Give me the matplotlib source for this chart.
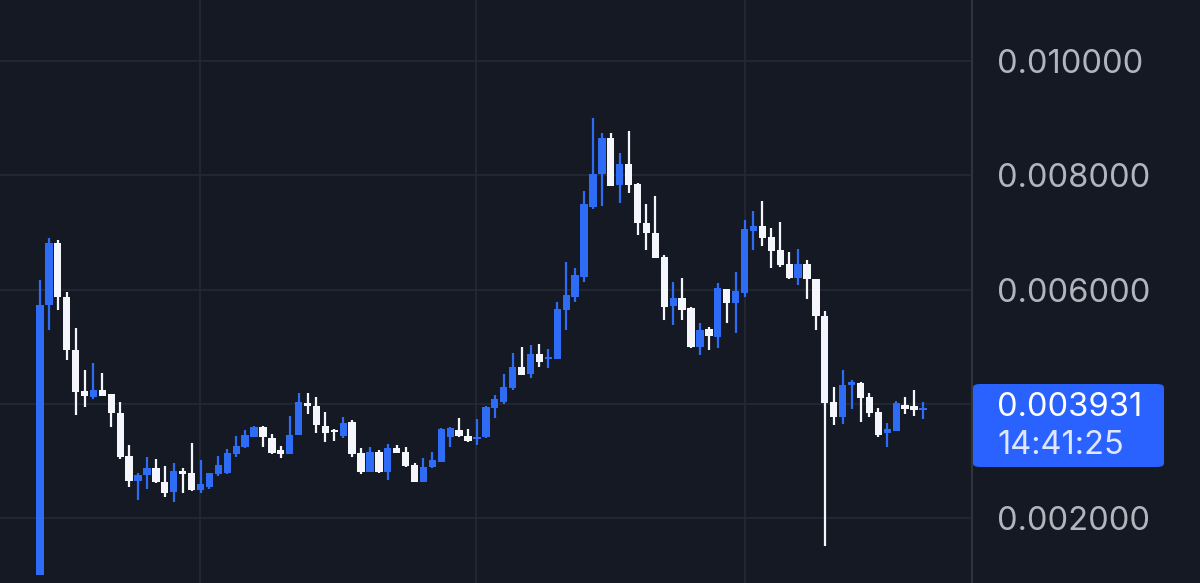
import matplotlib
matplotlib.use("Agg")
import matplotlib.pyplot as plt
from matplotlib.patches import FancyBboxPatch
from matplotlib.ticker import FuncFormatter
import numpy as np

# OHLC, one entry per candle
opens = [0.001005, 0.005730, 0.006815, 0.005870, 0.004943, 0.004225, 0.004120, 0.004243, 0.004173, 0.003840,
         0.003088, 0.002650, 0.002755, 0.002878, 0.002633, 0.002458, 0.002825, 0.002790, 0.002493, 0.002545,
         0.002773, 0.002790, 0.003123, 0.003245, 0.003420, 0.003595, 0.003403, 0.003193, 0.003123, 0.003455,
         0.004015, 0.003963, 0.003613, 0.003543, 0.003438, 0.003683, 0.003140, 0.002808, 0.003158, 0.002808,
         0.003228, 0.003158, 0.002930, 0.002633, 0.002895, 0.002983, 0.003420, 0.003543, 0.003438, 0.003385,
         0.003420, 0.003928, 0.004033, 0.004278, 0.004645, 0.004523, 0.004873, 0.004785, 0.004785, 0.005643,
         0.005870, 0.006220, 0.007445, 0.008023, 0.008653, 0.007830, 0.008198, 0.007848, 0.007165, 0.006990,
         0.006570, 0.005713, 0.005853, 0.005678, 0.004995, 0.005310, 0.005170, 0.006010, 0.005765, 0.005940,
         0.007025, 0.007113, 0.006920, 0.006693, 0.006448, 0.006203, 0.006448, 0.006185, 0.005538, 0.004033,
         0.003770, 0.004330, 0.004365, 0.004120, 0.003858, 0.003490, 0.003525, 0.003980, 0.003963, 0.003893]
highs = [0.006168, 0.006903, 0.006868, 0.005958, 0.005328, 0.004593, 0.004715, 0.004540, 0.004173, 0.004033,
         0.003280, 0.002790, 0.003070, 0.003035, 0.002913, 0.002965, 0.002878, 0.003315, 0.003018, 0.002790,
         0.003088, 0.003210, 0.003438, 0.003543, 0.003613, 0.003613, 0.003473, 0.003263, 0.003788, 0.004190,
         0.004190, 0.004120, 0.003858, 0.003560, 0.003770, 0.003718, 0.003228, 0.003245, 0.003193, 0.003298,
         0.003280, 0.003245, 0.002965, 0.003053, 0.003158, 0.003578, 0.003595, 0.003753, 0.003560, 0.003735,
         0.003963, 0.004155, 0.004523, 0.004890, 0.004995, 0.005030, 0.005048, 0.004960, 0.005783, 0.006483,
         0.006378, 0.007725, 0.009003, 0.008740, 0.008740, 0.008390, 0.008775, 0.007865, 0.007498, 0.007638,
         0.006605, 0.006133, 0.006203, 0.005695, 0.005415, 0.005345, 0.006115, 0.006010, 0.006308, 0.007218,
         0.007375, 0.007550, 0.007078, 0.007183, 0.006658, 0.006710, 0.006518, 0.006185, 0.005625, 0.004295,
         0.004593, 0.004418, 0.004383, 0.004190, 0.003928, 0.003665, 0.004050, 0.004120, 0.004243, 0.004033]
lows = [0.001005, 0.005293, 0.005643, 0.004768, 0.003805, 0.003945, 0.004085, 0.004138, 0.003595, 0.003035,
        0.002545, 0.002318, 0.002510, 0.002615, 0.002370, 0.002283, 0.002440, 0.002475, 0.002440, 0.002510,
        0.002738, 0.002773, 0.003070, 0.003228, 0.003420, 0.003245, 0.003123, 0.003053, 0.003123, 0.003455,
        0.003823, 0.003490, 0.003333, 0.003350, 0.003403, 0.003070, 0.002773, 0.002808, 0.002790, 0.002668,
        0.003140, 0.002895, 0.002633, 0.002633, 0.002878, 0.002983, 0.003245, 0.003420, 0.003333, 0.003280,
        0.003403, 0.003753, 0.003998, 0.004243, 0.004505, 0.004453, 0.004645, 0.004628, 0.004785, 0.005293,
        0.005783, 0.006133, 0.007410, 0.007463, 0.007813, 0.007515, 0.007690, 0.006955, 0.006693, 0.006553,
        0.005468, 0.005380, 0.005468, 0.004978, 0.004855, 0.004943, 0.004978, 0.005415, 0.005240, 0.005870,
        0.006693, 0.006763, 0.006378, 0.006395, 0.006185, 0.006080, 0.005835, 0.005293, 0.001513, 0.003630,
        0.003648, 0.003910, 0.003683, 0.003770, 0.003420, 0.003245, 0.003525, 0.003823, 0.003788, 0.003735]
closes = [0.005730, 0.006815, 0.005870, 0.004943, 0.004208, 0.004138, 0.004243, 0.004138, 0.003840, 0.003070,
          0.002650, 0.002755, 0.002878, 0.002633, 0.002440, 0.002825, 0.002773, 0.002493, 0.002598, 0.002790,
          0.002930, 0.003140, 0.003263, 0.003455, 0.003595, 0.003420, 0.003140, 0.003123, 0.003455, 0.004033,
          0.003963, 0.003630, 0.003490, 0.003508, 0.003665, 0.003123, 0.002808, 0.003158, 0.002808, 0.003228,
          0.003140, 0.002913, 0.002633, 0.002895, 0.003018, 0.003560, 0.003578, 0.003438, 0.003350, 0.003420,
          0.003945, 0.004085, 0.004295, 0.004645, 0.004505, 0.004873, 0.004733, 0.004820, 0.005660, 0.005905,
          0.006255, 0.007498, 0.008023, 0.008653, 0.007813, 0.008198, 0.007830, 0.007165, 0.006990, 0.006553,
          0.005695, 0.005853, 0.005643, 0.004995, 0.005293, 0.005188, 0.006028, 0.005765, 0.005975, 0.007060,
          0.007113, 0.006903, 0.006675, 0.006430, 0.006203, 0.006448, 0.006185, 0.005538, 0.004015, 0.003770,
          0.004330, 0.004383, 0.004103, 0.003840, 0.003455, 0.003560, 0.004015, 0.003910, 0.003893, 0.003931]

grid_prices = [0.002, 0.004, 0.006, 0.008, 0.010]
# 0.004000 is hidden behind the last-price tag in the reference
label_prices = [0.002, 0.006, 0.008, 0.010]
last_price = "0.003931"
countdown = "14:41:25"

bg = "#151924"
grid_col = "#252935"
up_col = "#2e6cf5"
down_col = "#f4f6fb"
font = "Inter"

o = np.array(opens)
h = np.array(highs)
l = np.array(lows)
c = np.array(closes)
x = np.arange(len(o))
up = c >= o
cols = np.where(up, up_col, down_col)

fig = plt.figure(figsize=(12, 5.83), dpi=100, facecolor=bg)
ax = fig.add_axes([0, 0, 972 / 1200, 1], facecolor=bg)

# wicks then bodies
ax.vlines(x, l, h, colors=cols, linewidth=1.6, zorder=2)
bottoms = np.minimum(o, c)
heights = np.maximum(np.abs(c - o), 0.00004)
ax.bar(x, heights, bottom=bottoms, width=0.82, color=cols, zorder=3, linewidth=0)

ax.set_xlim(-4.48, 104.5)
ax.set_ylim(0.000865, 0.0110675)

# grid
for p in grid_prices:
    ax.axhline(p, color=grid_col, linewidth=1.2, zorder=0)
for gx in [17.94, 48.9, 79.0]:
    ax.axvline(gx, color=grid_col, linewidth=1.2, zorder=0)

ax.set_xticks([])
ax.yaxis.tick_right()
ax.set_yticks(label_prices)
ax.yaxis.set_major_formatter(FuncFormatter(lambda v, pos: f"{v:.6f}"))
ax.tick_params(axis="y", length=0, pad=18, labelsize=23.5, labelcolor="#b2b5be")
for lab in ax.get_yticklabels():
    lab.set_fontfamily(font)

for s in ["top", "left", "bottom"]:
    ax.spines[s].set_visible(False)
ax.spines["right"].set_color("#2f3340")
ax.spines["right"].set_linewidth(1.5)

# last price tag
W, H = 1200, 583
box = FancyBboxPatch((973 / W, (H - 467) / H), (1164 - 973) / W, (467 - 384) / H,
                     boxstyle="round,pad=0,rounding_size=0.006", transform=fig.transFigure,
                     facecolor="#2962ff", edgecolor="none", zorder=5)
fig.add_artist(box)
fig.text(997 / W, (H - 408) / H, last_price, color="white", fontsize=23.5, family=font,
         va="center", ha="left", zorder=6)
fig.text(997 / W, (H - 446) / H, countdown, color="#dfe6ff", fontsize=23.5, family=font,
         va="center", ha="left", zorder=6)

fig.savefig("out.png", dpi=100, facecolor=bg)
